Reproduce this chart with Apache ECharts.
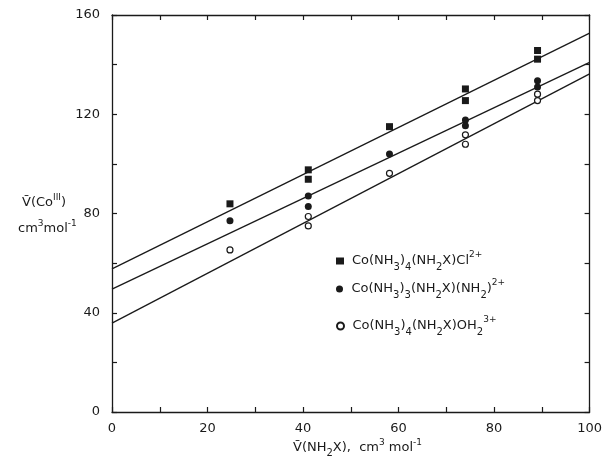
<!DOCTYPE html>
<html>
<head>
<meta charset="utf-8">
<script src="https://cdn.jsdelivr.net/npm/echarts@6/dist/echarts.min.js"></script>
<style>
  html, body { margin: 0; padding: 0; background: #fff; }
  #chart { width: 605px; height: 461px; }
</style>
</head>
<body>
<div id="chart"></div>
<script>
// 三组配合物的测量点 [V(NH2X), V(CoIII)]
const clPoints = [[24.7, 83.9], [41.1, 97.6], [41.1, 93.8], [58.1, 115.0], [74.0, 130.2], [74.0, 125.5], [89.1, 145.7], [89.1, 142.2]]
const nh2Points = [[24.7, 77.1], [41.1, 87.1], [41.1, 82.8], [58.1, 104.0], [74.0, 117.7], [74.0, 115.4], [89.1, 133.5], [89.1, 131.0]]
const ohPoints = [[24.7, 65.3], [41.1, 78.8], [41.1, 75.0], [58.1, 96.2], [74.0, 111.7], [74.0, 107.9], [89.1, 128.1], [89.1, 125.5]]
// 拟合直线的两个端点
const clFit = [[0, 57.7], [100, 152.7]]
const nh2Fit = [[0, 49.5], [100, 140.9]]
const ohFit = [[0, 35.8], [100, 136.3]]
// 坐标轴
const xTicks = [0, 20, 40, 60, 80, 100]
const yTicks = [0, 40, 80, 120, 160]

const ink = '#1a1a1a'
const font = 'DejaVu Sans'

// 图例的富文本（下标、上标）
const legendNames = {
  cl: '{b|Co(NH}{s|3}{b|)}{s|4}{b|(NH}{s|2}{b|X)Cl}{p|2+}',
  nh2: '{b|Co(NH}{s|3}{b|)}{s|3}{b|(NH}{s|2}{b|X)(NH}{s|2}{b|)}{p|2+}',
  oh: '{b|Co(NH}{s|3}{b|)}{s|4}{b|(NH}{s|2}{b|X)OH}{s|2}{p|3+}'
}
const richStyle = {
  b: { fontSize: 13, fontFamily: font, color: ink, lineHeight: 22, verticalAlign: 'middle' },
  s: { fontSize: 10, fontFamily: font, color: ink, lineHeight: 22, verticalAlign: 'bottom', padding: [6, 0, 0, 0] },
  p: { fontSize: 9, fontFamily: font, color: ink, lineHeight: 22, verticalAlign: 'top', padding: [0, 0, 7, 0] }
}

const chart = echarts.init(document.getElementById('chart'))

function axisBase (pos, showLabel, isX) {
  return {
    type: 'value',
    position: pos,
    min: 0,
    max: isX ? 100 : 160,
    interval: isX ? 10 : 20,
    axisLine: { show: true, onZero: false, lineStyle: { color: ink, width: 1.3 } },
    axisTick: { show: true, inside: true, length: 5, lineStyle: { color: ink, width: 1.2 } },
    splitLine: { show: false },
    axisLabel: {
      show: showLabel,
      color: ink,
      fontFamily: font,
      fontSize: 13,
      margin: isX ? 10 : 12,
      formatter: v => (isX ? xTicks : yTicks).includes(v) ? String(v) : ''
    }
  }
}

function fitLine (data) {
  return {
    type: 'line',
    data: data,
    symbol: 'none',
    silent: true,
    lineStyle: { color: ink, width: 1.3 },
    z: 1
  }
}

// 每个图例单独放置，方便对齐
function legendItem (name, icon, top) {
  return {
    orient: 'vertical',
    left: 331,
    top: top,
    itemWidth: 8,
    itemHeight: 7,
    data: [{ name: name, icon: icon }],
    formatter: n => legendNames[n],
    textStyle: { rich: richStyle, padding: [0, 0, 0, 3] }
  }
}

chart.setOption({
  animation: false,
  backgroundColor: '#fff',
  grid: { left: 112, right: 9, top: 15, bottom: 49 },
  xAxis: [axisBase('bottom', true, true), axisBase('top', false, true)],
  yAxis: [axisBase('left', true, false), axisBase('right', false, false)],
  legend: [
    legendItem('cl', 'rect', 245),
    legendItem('nh2', 'circle', 273),
    legendItem('oh', 'circle', 310)
  ],
  series: [
    {
      name: 'cl',
      type: 'scatter',
      data: clPoints,
      symbol: 'rect',
      symbolSize: 7,
      itemStyle: { color: ink, opacity: 1 },
      z: 3
    },
    {
      name: 'nh2',
      type: 'scatter',
      data: nh2Points,
      symbol: 'circle',
      symbolSize: 7,
      itemStyle: { color: ink, opacity: 1 },
      z: 3
    },
    {
      name: 'oh',
      type: 'scatter',
      data: ohPoints,
      symbol: 'circle',
      symbolSize: 6,
      itemStyle: { color: '#fff', borderColor: ink, borderWidth: 1.2, opacity: 1 },
      z: 3
    },
    fitLine(clFit),
    fitLine(nh2Fit),
    fitLine(ohFit)
  ],
  graphic: [
    {
      type: 'text',
      left: 22,
      top: 193,
      style: {
        text: '{b|V\u0304(Co}{p|III}{b|)}',
        rich: {
          b: { fontSize: 13, fontFamily: font, fill: ink, lineHeight: 20 },
          p: { fontSize: 9, fontFamily: font, fill: ink, lineHeight: 20, verticalAlign: 'top', padding: [0, 0, 6, 0] }
        }
      }
    },
    {
      type: 'text',
      left: 18,
      top: 219,
      style: {
        text: '{b|cm}{p|3}{b|mol}{p|-1}',
        rich: {
          b: { fontSize: 13, fontFamily: font, fill: ink, lineHeight: 20 },
          p: { fontSize: 9, fontFamily: font, fill: ink, lineHeight: 20, verticalAlign: 'top', padding: [0, 0, 6, 0] }
        }
      }
    },
    {
      type: 'text',
      left: 293,
      top: 438,
      style: {
        text: '{b|V\u0304(NH}{s|2}{b|X),  cm}{p|3}{b| mol}{p|-1}',
        rich: {
          b: { fontSize: 13, fontFamily: font, fill: ink, lineHeight: 20 },
          s: { fontSize: 10, fontFamily: font, fill: ink, lineHeight: 20, verticalAlign: 'bottom', padding: [5, 0, 0, 0] },
          p: { fontSize: 9, fontFamily: font, fill: ink, lineHeight: 20, verticalAlign: 'top', padding: [0, 0, 6, 0] }
        }
      }
    }
  ]
})
</script>
</body>
</html>
